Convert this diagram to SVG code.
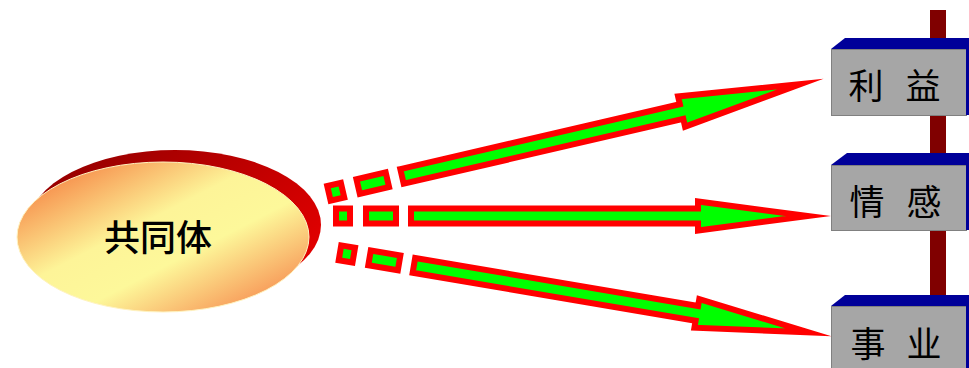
<svg xmlns="http://www.w3.org/2000/svg" width="969" height="368" viewBox="0 0 969 368">
<defs>
<linearGradient id="gFront" x1="0" y1="0" x2="1" y2="1">
<stop offset="0" stop-color="#f4682f"/>
<stop offset="0.42" stop-color="#fdf498"/>
<stop offset="0.6" stop-color="#fdf89a"/>
<stop offset="1" stop-color="#f5703c"/>
</linearGradient>
<linearGradient id="gBack" x1="0" y1="0" x2="1" y2="0.6">
<stop offset="0" stop-color="#8c0000"/>
<stop offset="1" stop-color="#e00000"/>
</linearGradient>
<g id="dashes">
<rect x="3" y="-7.5" width="14" height="15"/>
<rect x="33" y="-7.5" width="30" height="15"/>
</g>
</defs>
<style>
.arw{fill:#00ff00;stroke:#ff0000;stroke-width:6;stroke-linejoin:miter;stroke-miterlimit:40}
.box{fill:#a6a6a6;stroke:#808080;stroke-width:1}
.top{fill:#000099}
.lbl{font-family:"Noto Sans CJK SC","Noto Sans CJK JP",sans-serif;font-size:35px;fill:#000;text-anchor:middle}
</style>
<g id="spine"><rect x="930" y="10" width="16" height="358" fill="#800000"/></g>
<g id="community">
<ellipse cx="175" cy="225" rx="146" ry="75" fill="url(#gBack)"/>
<ellipse cx="163" cy="237" rx="146" ry="75" fill="url(#gFront)" stroke="#fff3c0" stroke-width="1"/>
<text x="158" y="251" class="lbl" style="font-size:36px;font-weight:500">共同体</text>
</g>
<g id="connectors">
<g transform="translate(326,194) rotate(-13.05)">
<use href="#dashes" class="arw"/>
<polygon class="arw" points="78,-7.5 365,-7.5 365,-15.5 487,0 365,15.5 365,7.5 78,7.5"/>
</g>
<g transform="translate(333,216)">
<use href="#dashes" class="arw"/>
<polygon class="arw" points="78,-7.5 365,-7.5 365,-14.5 475,0 365,14.5 365,7.5 78,7.5"/>
</g>
<g transform="translate(337,252.3) rotate(9.63)">
<use href="#dashes" class="arw"/>
<polygon class="arw" points="78,-7.5 365,-7.5 365,-14.5 478,0 365,14.5 365,7.5 78,7.5"/>
</g>
</g>
<g id="interest">
<polygon class="top" points="831,49 845,38 969,38 969,49"/>
<rect class="box" x="831.5" y="49.5" width="135" height="66"/>
<rect x="966" y="49" width="3" height="66" fill="#000099"/>
<text class="lbl" y="99"><tspan x="866">利</tspan><tspan x="923">益</tspan></text>
</g>
<g id="emotion">
<polygon class="top" points="831,165 847,153 969,153 969,165"/>
<rect class="box" x="831.5" y="165.5" width="135" height="65"/>
<rect x="966" y="165" width="3" height="65" fill="#000099"/>
<text class="lbl" y="215"><tspan x="867">情</tspan><tspan x="924">感</tspan></text>
</g>
<g id="career">
<polygon class="top" points="831,306 845,295 969,295 969,306"/>
<rect class="box" x="831.5" y="306.5" width="135" height="70"/>
<rect x="966" y="306" width="3" height="62" fill="#000099"/>
<text class="lbl" y="357"><tspan x="868">事</tspan><tspan x="924">业</tspan></text>
</g>
</svg>
